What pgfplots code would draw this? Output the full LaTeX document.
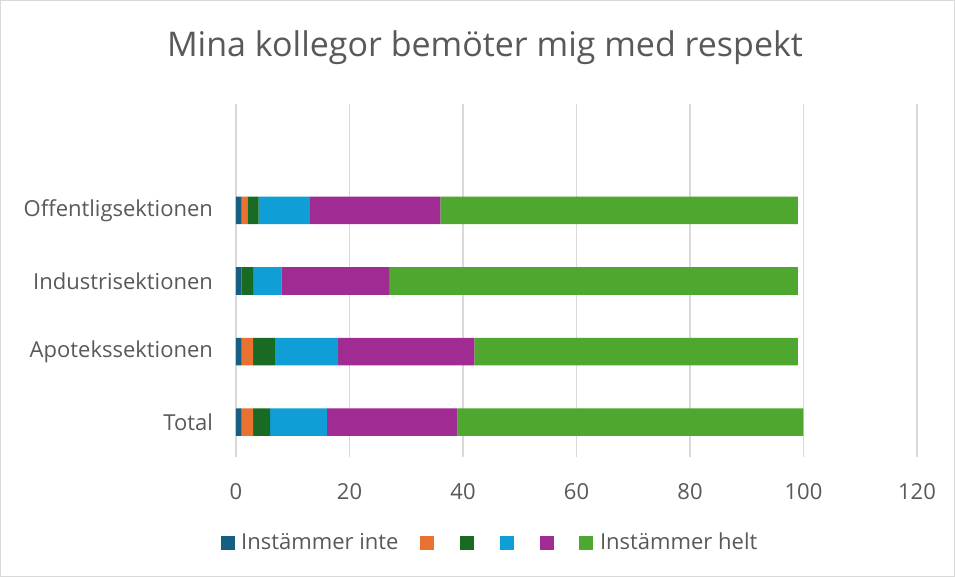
\documentclass[border=0pt]{standalone}
\usepackage{pgfplots}
\pgfplotsset{compat=1.18}
\usepackage{fontspec}
\setmainfont{Open Sans}
\definecolor{sA}{HTML}{156082}
\definecolor{sB}{HTML}{E97132}
\definecolor{sC}{HTML}{196B24}
\definecolor{sD}{HTML}{0F9ED5}
\definecolor{sE}{HTML}{A02B93}
\definecolor{sF}{HTML}{4EA72E}
\definecolor{txt}{HTML}{595959}
\definecolor{gridc}{HTML}{D9D9D9}
\newcommand{\gap}[1]{\rule{#1}{0pt}}
\begin{document}
\begin{tikzpicture}
\path[draw=gridc, line width=0.6pt, fill=white] (0.3pt,0.3pt) rectangle (477.2pt,288.2pt);
\node[text=txt, font=\fontsize{17}{20}\selectfont] at (242.5pt,264.5pt) {Mina kollegor bemöter mig med respekt};
\begin{axis}[
  at={(118pt,59.75pt)}, anchor=south west,
  scale only axis, width=340.5pt, height=176.5pt,
  xbar stacked, bar width=13.8pt,
  xmin=0, xmax=120, ymin=-0.5, ymax=4.5,
  xtick={0,20,...,120},
  ytick={0,1,2,3},
  yticklabels={Total,Apotekssektionen,Industrisektionen,Offentligsektionen},
  axis line style={draw=none},
  major tick length=0pt,
  xmajorgrids,
  grid style={gridc, line width=0.75pt},
  tick label style={font=\fontsize{11}{13}\selectfont, text=txt},
  /pgf/number format/assume math mode=true,
  xticklabel style={yshift=-9.5pt},
  yticklabel style={xshift=-8pt},
  legend columns=6,
  legend style={at={(axis description cs:0.3715,-0.242)}, anchor=center, draw=none, fill=none,
    font=\fontsize{11}{13}\selectfont, text=txt,
    /tikz/column sep=0pt,
    nodes={inner sep=0pt}},
  legend image code/.code={\fill[#1,draw=none] (0pt,-3.5pt) rectangle (7pt,3.5pt);},
]
\addplot[fill=sA, draw=none] coordinates {(1,0) (1,1) (1,2) (1,3)};
\addplot[fill=sB, draw=none] coordinates {(2,0) (2,1) (0,2) (1,3)};
\addplot[fill=sC, draw=none] coordinates {(3,0) (4,1) (2,2) (2,3)};
\addplot[fill=sD, draw=none] coordinates {(10,0) (11,1) (5,2) (9,3)};
\addplot[fill=sE, draw=none] coordinates {(23,0) (24,1) (19,2) (23,3)};
\addplot[fill=sF, draw=none] coordinates {(61,0) (57,1) (72,2) (63,3)};
\addlegendentry{\gap{3.3pt}Instämmer inte\gap{11pt}}
\addlegendentry{\gap{13pt}}
\addlegendentry{\gap{13pt}}
\addlegendentry{\gap{13pt}}
\addlegendentry{\gap{12.5pt}}
\addlegendentry{\gap{3.3pt}Instämmer helt}
\end{axis}
\end{tikzpicture}
\end{document}
